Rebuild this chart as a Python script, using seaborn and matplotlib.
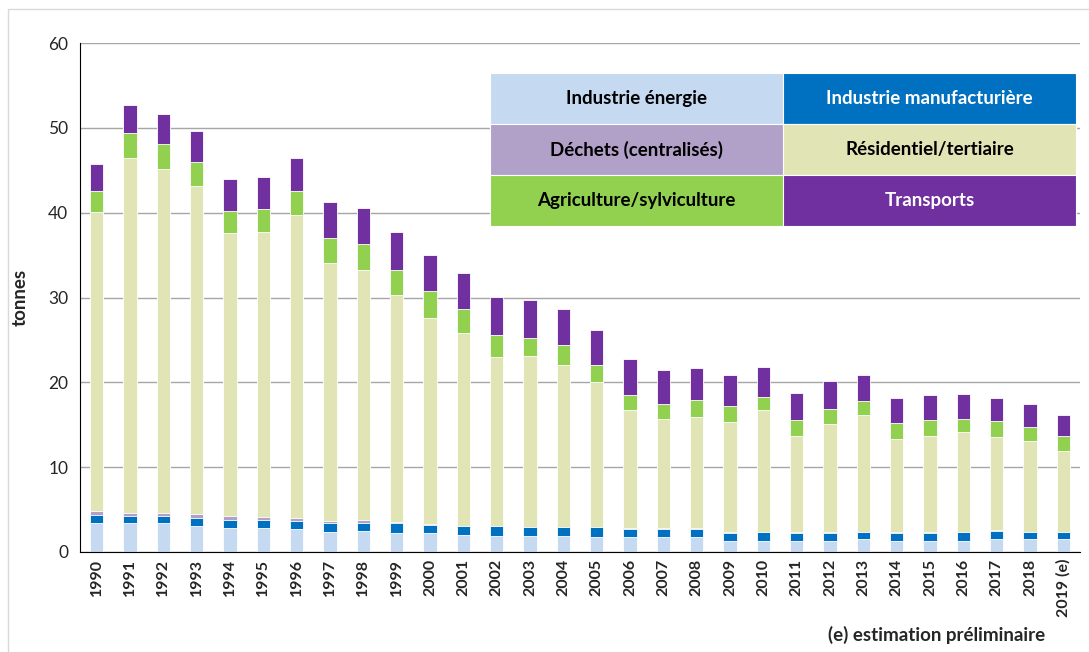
import numpy as np
import pandas as pd
import matplotlib.pyplot as plt
import seaborn as sns
from matplotlib.patches import Rectangle

years = [str(y) for y in range(1990, 2019)] + ['2019 (e)']

energie = [3.4, 3.4, 3.4, 3.1, 2.8, 2.8, 2.7, 2.35, 2.5, 2.2,
           2.2, 2.05, 1.9, 1.9, 1.9, 1.8, 1.8, 1.8, 1.8, 1.35,
           1.35, 1.35, 1.35, 1.5, 1.35, 1.35, 1.35, 1.5, 1.5, 1.5]
manuf = [0.95, 0.8, 0.8, 0.9, 1.0, 1.0, 0.95, 1.05, 0.95, 1.2,
         1.0, 1.0, 1.15, 1.0, 1.0, 1.1, 0.95, 0.95, 0.95, 0.9,
         1.0, 0.9, 0.9, 0.8, 0.9, 0.9, 1.0, 1.0, 0.85, 0.85]
dechets = [0.45, 0.45, 0.45, 0.5, 0.45, 0.3, 0.3, 0.3, 0.3, 0.1,
           0.12, 0.05, 0.05, 0.05, 0.05, 0.05, 0.05, 0.05, 0.05, 0.05,
           0.05, 0.05, 0.05, 0.05, 0.05, 0.05, 0.05, 0.05, 0.05, 0.05]
residentiel = [35.3, 41.85, 40.55, 38.7, 33.35, 33.6, 35.75, 30.4, 29.5, 26.8,
               24.3, 22.7, 19.85, 20.15, 19.05, 17.1, 13.9, 12.9, 13.15, 13.05,
               14.3, 11.4, 12.8, 13.75, 11.0, 11.4, 11.7, 11.05, 10.65, 9.5]
agriculture = [2.5, 2.9, 2.9, 2.8, 2.65, 2.7, 2.9, 2.9, 3.05, 3.0,
               3.1, 2.8, 2.65, 2.1, 2.4, 1.95, 1.8, 1.8, 1.95, 1.85,
               1.6, 1.9, 1.8, 1.7, 1.95, 1.9, 1.6, 1.8, 1.65, 1.8]
transports = [3.15, 3.3, 3.5, 3.6, 3.75, 3.8, 3.9, 4.2, 4.2, 4.4,
              4.3, 4.3, 4.5, 4.5, 4.2, 4.2, 4.2, 3.9, 3.8, 3.7,
              3.55, 3.2, 3.3, 3.1, 2.95, 2.9, 2.9, 2.8, 2.7, 2.4]

labels = ['Industrie énergie', 'Industrie manufacturière', 'Déchets (centralisés)',
          'Résidentiel/tertiaire', 'Agriculture/sylviculture', 'Transports']
colors = ['#C5D9F1', '#0070C0', '#B1A0C7', '#E1E5B5', '#92D050', '#7030A0']
series = [energie, manuf, dechets, residentiel, agriculture, transports]

df = pd.DataFrame({'annee': years})
cum = np.zeros(len(years))
cols = []
for lab, s in zip(labels, series):
    cum = cum + np.array(s)
    df[lab] = cum
    cols.append(lab)

sns.set_style('white')
plt.rcParams['font.family'] = ['Lato', 'DejaVu Sans']

fig = plt.figure(figsize=(10.89, 6.52), dpi=100)
ax = fig.add_axes([80 / 1089, 1 - 552 / 652, 1000 / 1089, 509 / 652])

# stacked bars: draw cumulative totals from the top layer down
for lab, col in zip(cols[::-1], colors[::-1]):
    sns.barplot(data=df, x='annee', y=lab, color=col, width=0.4,
                edgecolor='white', linewidth=0.6, saturation=1, ax=ax)

ax.set_xlim(-0.5, len(years) - 0.5)
ax.set_ylim(0, 60)
ax.set_yticks(range(0, 61, 10))
ax.yaxis.grid(True, color='#A6A6A6', linewidth=1)
ax.set_axisbelow(True)
for sp in ['top', 'right']:
    ax.spines[sp].set_visible(False)
ax.spines['left'].set_color('black')
ax.spines['bottom'].set_color('black')
ax.tick_params(axis='y', direction='out', length=5, color='black', labelsize=12.5)
ax.set_xticks(range(len(years)))
ax.set_xticklabels(years, rotation=90, fontweight='bold', fontsize=11.5)
ax.tick_params(axis='x', which='major', length=0, pad=5)
ax.set_xticks(np.arange(-0.5, len(years), 1), minor=True)
ax.tick_params(axis='x', which='minor', direction='out', length=5, color='black')
ax.set_xlabel('')
ax.set_ylabel('tonnes', fontweight='bold', fontsize=13.5, labelpad=14)

# legend as a grid of coloured cells
cell_w, cell_h = 293 / 1089, 51 / 652
x0, y0 = 490 / 1089, 1 - 73 / 652
order = [(0, 0), (0, 1), (1, 0), (1, 1), (2, 0), (2, 1)]
for (r, c), lab, col in zip(order, labels, colors):
    x = x0 + c * cell_w
    y = y0 - (r + 1) * cell_h
    fig.add_artist(Rectangle((x, y), cell_w, cell_h, transform=fig.transFigure,
                             facecolor=col, edgecolor='white', linewidth=0.8))
    tc = 'white' if col in ('#0070C0', '#7030A0') else 'black'
    fig.text(x + cell_w / 2, y + cell_h / 2, lab, ha='center', va='center',
             fontsize=13.5, fontweight='bold', color=tc)

fig.text(1045 / 1089, 1 - 635 / 652, '(e) estimation préliminaire', ha='right',
         va='center', fontsize=13.5, fontweight='bold')

fig.add_artist(Rectangle((8 / 1089, -0.01), 1.1, 1 - 9 / 652 + 0.01,
                         transform=fig.transFigure, fill=False,
                         edgecolor='#D9D9D9', linewidth=1))

fig.savefig('out.png', dpi=100)
